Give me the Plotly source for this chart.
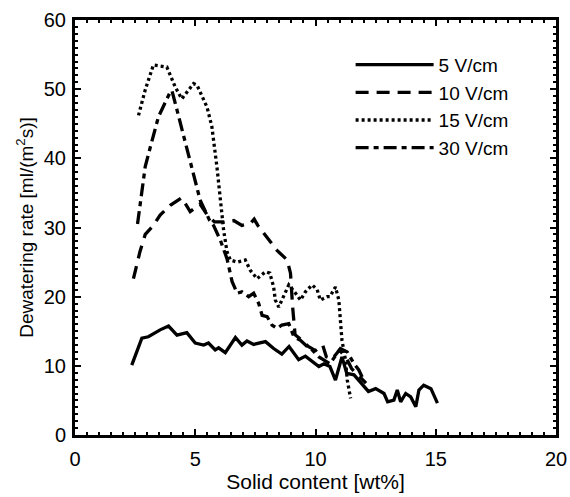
import plotly.graph_objects as go

# ---- data ----
x_5 = [2.36, 2.78, 3.05, 3.54, 3.89, 4.24, 4.65, 5.0, 5.35, 5.55, 5.83, 5.97, 6.25, 6.67, 6.94, 7.15,
       7.43, 7.92, 8.26, 8.6, 8.9, 9.3, 9.58, 10.14, 10.35, 10.6, 10.83, 10.97, 11.1, 11.3, 11.6, 11.9,
       12.2, 12.5, 12.85, 13.0, 13.26, 13.4, 13.54, 13.75, 13.96, 14.17, 14.3, 14.5, 14.8, 15.07]
y_5 = [10.1, 14.0, 14.2, 15.2, 15.75, 14.45, 14.8, 13.3, 13.0, 13.3, 12.3, 12.6, 11.9, 14.1, 13.0, 13.6,
       13.1, 13.5, 12.5, 11.7, 12.8, 10.9, 11.4, 9.9, 10.3, 9.9, 7.95, 9.9, 11.3, 8.9, 8.7, 7.5,
       6.3, 6.7, 6.0, 4.8, 5.05, 6.5, 4.8, 6.0, 5.5, 4.1, 6.5, 7.2, 6.7, 4.6]

x_10 = [2.43, 2.7, 2.92, 3.26, 3.54, 3.96, 4.44, 4.79, 5.2, 5.5, 5.8, 6.18, 6.6, 6.94, 7.3, 7.45, 7.6,
        8.06, 8.4, 8.82, 8.96, 9.05, 9.15, 9.4, 9.7, 10.0, 10.3, 10.45, 10.7, 11.0, 11.3, 11.5, 11.8, 12.1]
y_10 = [22.6, 26.5, 29.0, 30.3, 31.8, 33.2, 34.3, 32.3, 33.4, 31.8, 30.8, 30.8, 31.0, 30.3, 30.6, 31.2, 30.3,
        28.2, 26.7, 25.3, 23.4, 18.5, 14.5, 13.8, 12.8, 12.2, 13.0, 11.3, 11.0, 12.3, 11.0, 9.6, 8.5, 7.5]

x_15 = [2.64, 2.92, 3.26, 3.82, 4.17, 4.44, 4.93, 5.07, 5.49, 5.69, 5.9, 6.04, 6.18, 6.32, 6.46, 6.74,
        7.08, 7.29, 7.57, 7.92, 8.1, 8.26, 8.33, 8.47, 8.68, 8.89, 9.17, 9.375, 9.58, 9.86, 10.07, 10.2,
        10.49, 10.6, 10.83, 10.97, 11.1, 11.25, 11.32, 11.46]
y_15 = [46.2, 49.9, 53.5, 53.2, 50.3, 48.6, 50.8, 50.6, 47.4, 44.6, 38.8, 34.0, 29.6, 26.5, 25.3, 25.0,
        25.3, 23.8, 22.6, 23.6, 23.4, 21.4, 19.5, 18.5, 20.0, 21.7, 20.5, 19.5, 20.7, 21.7, 21.0, 19.5,
        20.0, 20.0, 21.4, 19.5, 13.7, 10.8, 7.95, 5.3]

x_30 = [2.6, 2.7, 2.8, 2.92, 3.13, 3.47, 3.96, 4.03, 4.24, 4.65, 4.93, 5.2, 5.4, 5.6, 5.76, 6.04, 6.32,
        6.53, 6.74, 6.94, 7.22, 7.43, 7.64, 7.78, 7.99, 8.19, 8.4, 8.6, 8.89, 9.1, 9.375, 9.65, 9.86,
        10.14, 10.6, 11.04, 11.32, 11.6, 11.8, 12.0]
y_30 = [30.5, 33.0, 36.0, 38.8, 41.6, 46.0, 49.6, 49.8, 47.0, 41.6, 37.8, 34.0, 32.5, 31.0, 30.3, 28.2, 25.5,
        22.2, 20.5, 20.7, 20.0, 20.5, 19.0, 17.3, 17.1, 15.9, 15.4, 15.9, 16.1, 14.2, 13.7, 12.8, 12.3,
        11.3, 10.3, 12.5, 12.0, 10.3, 9.4, 7.95]

series_names = ["5 V/cm", "10 V/cm", "15 V/cm", "30 V/cm"]
x_ticks = [0, 5, 10, 15, 20]
y_ticks = [0, 10, 20, 30, 40, 50, 60]

FONT = "Liberation Sans, Arial, sans-serif"

fig = go.Figure()
styles = ["solid", "13px,8px", "3px,3px", "13px,5px,5px,5px"]
for xs, ys, name, dash in zip([x_5, x_10, x_15, x_30], [y_5, y_10, y_15, y_30], series_names, styles):
    fig.add_trace(go.Scatter(x=xs, y=ys, mode="lines", name=name,
                             line=dict(color="black", width=3.3, dash=dash)))

axis_common = dict(
    showline=True, linewidth=3, linecolor="black", mirror="allticks",
    ticks="inside", ticklen=6, tickwidth=2, tickcolor="black",
    showgrid=False, zeroline=False, automargin=False,
    tickfont=dict(family=FONT, size=20, color="black"),
)

fig.update_xaxes(range=[0, 20], tickvals=x_ticks, ticklabelstandoff=4,
                 minor=dict(dtick=0.5, ticks="inside", ticklen=3, tickwidth=2, tickcolor="black", showgrid=False),
                 title=dict(text="Solid content [wt%]", font=dict(family=FONT, size=21, color="black"), standoff=4),
                 **axis_common)
fig.update_yaxes(range=[0, 60], tickvals=y_ticks, ticklabelstandoff=2,
                 minor=dict(dtick=1, ticks="inside", ticklen=3, tickwidth=2, tickcolor="black", showgrid=False),
                 title=dict(text="Dewatering rate [ml/(m<sup>2</sup>s)]", font=dict(family=FONT, size=19, color="black"), standoff=6),
                 **axis_common)

fig.update_layout(
    width=570, height=497,
    margin=dict(l=75, r=14, t=20, b=62),
    paper_bgcolor="white", plot_bgcolor="white",
    font=dict(family=FONT, size=20, color="black"),
    legend=dict(x=0.573, y=0.938, xanchor="left", yanchor="top",
                bgcolor="rgba(0,0,0,0)", font=dict(family=FONT, size=19, color="black"),
                itemwidth=78),
)

fig.write_html("out.html")
